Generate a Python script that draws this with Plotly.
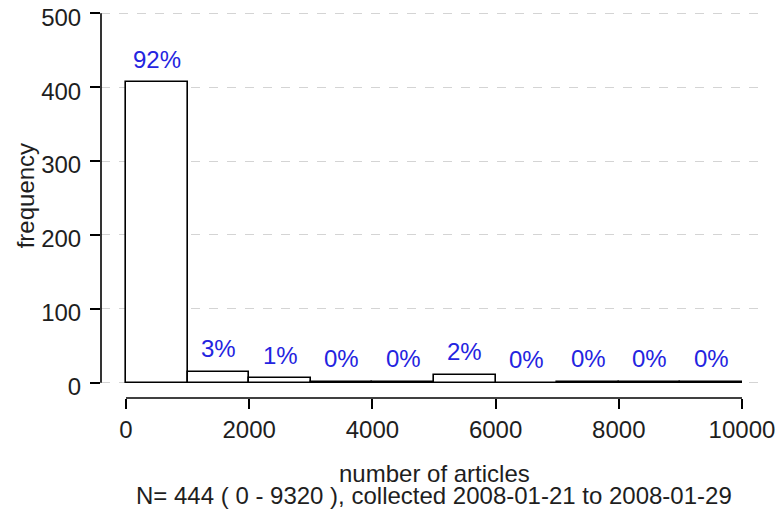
import plotly.graph_objects as go

# ---- data ----
bin_left = [0, 1000, 2000, 3000, 4000, 5000, 6000, 7000, 8000, 9000]
bin_width = 1000
counts = [407, 15, 6, 1, 1, 11, 0, 1, 1, 1]
pct_labels = ["92%", "3%", "1%", "0%", "0%", "2%", "0%", "0%", "0%", "0%"]
x_ticks = [0, 2000, 4000, 6000, 8000, 10000]
y_ticks = [0, 100, 200, 300, 400, 500]
x_title = "number of articles"
subtitle = "N= 444 ( 0 - 9320 ), collected 2008-01-21 to 2008-01-29"
y_title = "frequency"

FONT = "Liberation Sans, Arial, Helvetica, sans-serif"
TXT = "#1e1e1e"
BLUE = "#2424e0"
FS = 24

centers = [l + bin_width / 2 for l in bin_left]

fig = go.Figure()
fig.add_trace(go.Bar(
    x=centers, y=counts, width=bin_width,
    marker=dict(color="white", line=dict(color="black", width=1.6)),
    hoverinfo="skip", showlegend=False,
))

for cx, c, lab in zip(centers, counts, pct_labels):
    fig.add_annotation(x=cx, y=c, text=lab, showarrow=False,
                       xref="x", yref="y", yanchor="middle", yshift=23,
                       font=dict(family=FONT, size=FS, color=BLUE))

# detached R-style axis lines
fig.add_shape(type="line", xref="x", yref="paper",
              x0=x_ticks[0], x1=x_ticks[-1], y0=0, y1=0,
              line=dict(color="black", width=1.6), layer="above")
fig.add_shape(type="line", xref="paper", yref="y",
              x0=0, x1=0, y0=y_ticks[0], y1=y_ticks[-1],
              line=dict(color="black", width=1.6), layer="above")

fig.add_annotation(text=x_title, xref="paper", yref="paper", x=0.5, y=-0.195,
                   showarrow=False, yanchor="middle",
                   font=dict(family=FONT, size=FS, color=TXT))
fig.add_annotation(text=subtitle, xref="paper", yref="paper", x=0.5, y=-0.252,
                   showarrow=False, yanchor="middle",
                   font=dict(family=FONT, size=FS, color=TXT))
fig.add_annotation(text=y_title, xref="paper", yref="paper", x=-0.114, y=0.52,
                   showarrow=False, textangle=-90, xanchor="center", yanchor="middle",
                   font=dict(family=FONT, size=FS, color=TXT))

fig.update_layout(
    width=778, height=511,
    margin=dict(l=101, r=11, t=10, b=113, pad=0, autoexpand=False),
    paper_bgcolor="white", plot_bgcolor="white",
    bargap=0,
    font=dict(family=FONT, size=FS, color=TXT),
    xaxis=dict(range=[-406, 10406], tickvals=x_ticks, ticktext=[str(v) for v in x_ticks],
               ticks="outside", ticklen=10, tickwidth=1.6, tickcolor="black",
               showline=False, showgrid=False, zeroline=False, automargin=False,
               ticklabelstandoff=0, ticklabeloverflow="allow",
               tickfont=dict(family=FONT, size=FS, color=TXT)),
    yaxis=dict(range=[-20.7, 504.5], tickvals=y_ticks, ticktext=[str(v) for v in y_ticks],
               ticks="outside", ticklen=10, tickwidth=1.6, tickcolor="black",
               showline=False, showgrid=True, gridcolor="#d4d4d4", griddash="dash",
               gridwidth=1, zeroline=False, automargin=False,
               ticklabelstandoff=4, ticklabelshift=4, ticklabeloverflow="allow",
               tickfont=dict(family=FONT, size=FS, color=TXT)),
)

fig.write_html("out.html", config={"displayModeBar": False},
               post_script="document.body.style.margin='0';")
